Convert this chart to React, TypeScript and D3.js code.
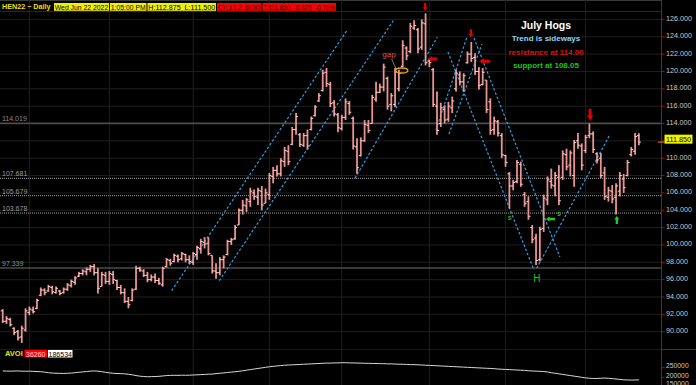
import React from "react";
import * as d3 from "d3";

// ---------- DATA ----------
const opens = [
  92.4, 91.2, 91.4, 90.4, 90.0, 89.4, 90.2, 92.2, 92.5, 92.7,
  94.2, 94.8, 94.7, 95.1, 94.5, 94.7, 94.5, 94.9, 95.3, 95.7,
  96.4, 96.7, 96.9, 97.2, 97.5, 96.8, 95.2, 96.5, 95.8, 96.6,
  95.9, 95.1, 94.5, 93.5, 93.6, 94.9, 97.3, 97.0, 96.5, 96.0,
  96.3, 95.9, 95.4, 97.5, 98.2, 98.1, 98.7, 98.4, 98.9, 98.3,
  98.0, 98.9, 99.6, 100.3, 100.2, 98.8, 97.0, 96.8, 98.3, 98.9,
  100.4, 100.7, 102.3, 104.0, 104.5, 105.0, 106.0, 105.5, 106.2, 104.8,
  105.8, 107.9, 108.6, 108.2, 109.6, 110.8, 111.6, 113.3, 112.7, 111.5,
  112.6, 113.3, 114.9, 116.6, 117.8, 119.9, 118.5, 116.4, 115.0, 113.4,
  114.7, 116.3, 114.6, 111.3, 110.3, 112.0, 113.8, 114.0, 116.8, 117.6,
  118.2, 119.2, 116.2, 116.2, 118.0, 120.6, 122.7, 122.3, 125.0, 124.8,
  122.8, 125.5, 121.2, 120.2, 116.0, 114.0, 115.6, 114.5, 115.8, 118.0,
  119.6, 118.8, 121.0, 122.0, 121.6, 120.0, 118.5, 119.0, 116.5, 113.3,
  114.2, 112.6, 110.3, 108.2, 106.8, 107.3, 109.3, 105.8, 105.0, 102.0,
  100.8, 98.3, 101.9, 105.2, 107.3, 106.8, 107.8, 107.8, 110.4, 109.2,
  108.0, 112.0, 111.4, 110.9, 112.6, 112.8, 110.5, 110.0, 108.3, 105.5,
  106.2, 105.5, 106.2, 107.6, 108.0, 110.4, 110.8, 112.6,
];
const highs = [
  92.6, 91.8, 91.6, 90.5, 90.2, 90.7, 92.7, 92.9, 92.9, 93.8,
  95.1, 95.0, 95.4, 95.3, 95.2, 94.8, 95.1, 95.6, 96.0, 96.4,
  96.9, 97.2, 97.4, 97.7, 97.8, 97.3, 96.9, 96.9, 97.0, 97.0,
  96.0, 95.4, 95.0, 94.0, 95.0, 97.6, 97.5, 97.2, 96.9, 96.6,
  96.7, 96.2, 97.5, 98.5, 98.4, 99.0, 98.9, 99.2, 99.0, 98.8,
  99.2, 99.9, 100.7, 100.9, 100.9, 98.8, 97.9, 98.6, 98.8, 100.6,
  100.8, 102.3, 104.2, 105.2, 105.4, 106.6, 106.4, 106.6, 106.8, 106.5,
  108.3, 109.0, 109.2, 110.0, 111.3, 111.5, 113.6, 115.2, 112.9, 112.9,
  113.3, 114.8, 116.1, 117.5, 120.2, 120.4, 118.8, 116.7, 115.2, 115.0,
  116.9, 116.6, 114.8, 112.3, 112.4, 114.4, 114.4, 117.3, 118.8, 118.6,
  120.9, 119.4, 117.5, 120.4, 120.2, 123.6, 122.9, 125.6, 125.9, 125.0,
  126.0, 126.7, 121.5, 120.4, 117.7, 116.4, 116.1, 116.5, 117.1, 120.2,
  120.0, 119.8, 122.3, 123.4, 122.1, 120.5, 120.4, 119.0, 116.9, 114.8,
  114.4, 112.9, 110.4, 108.4, 107.5, 109.8, 109.6, 106.1, 105.6, 102.3,
  101.3, 102.1, 105.8, 107.9, 108.8, 108.4, 109.2, 110.9, 111.1, 110.9,
  112.1, 112.9, 111.7, 112.7, 114.0, 113.1, 110.7, 110.6, 109.0, 106.7,
  106.9, 107.1, 108.4, 108.2, 109.8, 111.3, 112.9, 112.875,
];
const lows = [
  91.0, 90.9, 90.6, 89.6, 89.0, 88.7, 90.0, 91.9, 92.1, 92.6,
  94.1, 94.2, 94.6, 94.3, 94.4, 94.2, 94.4, 94.7, 95.1, 95.4,
  96.3, 96.5, 96.5, 96.9, 96.5, 94.4, 95.2, 95.5, 95.4, 95.5,
  94.8, 94.3, 93.3, 92.7, 93.5, 94.8, 96.9, 96.3, 95.7, 95.8,
  95.6, 95.4, 95.2, 97.4, 97.6, 98.0, 98.0, 98.2, 98.0, 97.8,
  97.7, 98.3, 99.0, 99.6, 98.8, 96.7, 96.1, 96.5, 97.3, 98.8,
  100.0, 100.6, 102.3, 103.5, 103.8, 104.4, 105.2, 104.6, 104.0, 104.8,
  105.2, 107.1, 107.9, 107.9, 109.0, 109.2, 111.5, 112.7, 111.3, 111.3,
  111.0, 113.2, 114.8, 116.5, 117.7, 118.2, 115.9, 114.8, 113.0, 113.2,
  114.4, 115.0, 111.0, 108.2, 110.2, 111.9, 112.9, 114.0, 116.5, 117.5,
  117.7, 115.6, 115.4, 115.9, 117.7, 120.5, 121.3, 122.1, 124.8, 122.1,
  122.5, 120.7, 120.5, 115.9, 112.7, 113.6, 114.0, 114.2, 115.2, 117.7,
  118.4, 117.7, 120.9, 121.1, 119.6, 117.9, 118.4, 115.2, 112.7, 112.7,
  112.5, 110.0, 109.0, 104.2, 106.3, 107.1, 106.7, 104.4, 102.9, 100.2,
  97.7, 98.1, 101.5, 104.6, 106.5, 105.6, 104.6, 107.5, 108.6, 107.9,
  106.7, 111.1, 108.6, 110.6, 112.3, 110.6, 109.4, 107.7, 105.2, 105.0,
  104.8, 103.5, 105.6, 106.0, 107.9, 110.2, 110.4, 111.5,
];
const closes = [
  91.2, 91.5, 90.8, 89.9, 89.3, 90.4, 92.4, 92.6, 92.3, 93.6,
  94.8, 94.5, 95.2, 94.6, 95.0, 94.4, 94.9, 95.4, 95.8, 96.2,
  96.7, 97.0, 97.2, 97.5, 96.8, 95.0, 96.6, 95.8, 96.7, 96.0,
  95.1, 94.5, 93.5, 93.1, 94.8, 97.3, 97.1, 96.5, 96.0, 96.3,
  95.9, 95.6, 97.3, 98.3, 97.9, 98.8, 98.3, 99.0, 98.3, 98.1,
  99.0, 99.7, 100.4, 100.1, 99.0, 97.0, 96.8, 98.3, 98.6, 100.4,
  100.6, 102.0, 104.0, 104.6, 105.2, 106.2, 105.6, 106.3, 104.6, 106.0,
  108.0, 108.6, 108.2, 109.7, 110.9, 109.6, 113.3, 114.8, 111.6, 112.6,
  111.4, 114.6, 115.9, 117.2, 119.8, 118.6, 116.3, 115.1, 113.5, 114.7,
  116.5, 115.3, 111.4, 108.9, 112.0, 113.9, 113.2, 117.0, 117.6, 118.2,
  120.5, 116.0, 117.2, 120.0, 119.8, 123.0, 121.8, 125.2, 125.3, 122.6,
  125.6, 121.0, 121.0, 116.2, 113.2, 115.8, 114.4, 116.0, 116.6, 119.8,
  118.8, 119.5, 122.0, 121.5, 120.0, 118.4, 119.9, 115.6, 113.2, 114.3,
  112.9, 110.4, 109.5, 106.8, 107.2, 109.5, 107.0, 104.8, 103.3, 100.6,
  98.2, 101.8, 105.4, 107.5, 106.9, 108.0, 105.1, 110.5, 109.0, 110.6,
  111.8, 111.5, 109.2, 112.4, 112.8, 111.0, 109.8, 108.0, 105.6, 106.3,
  105.3, 106.8, 108.0, 106.6, 109.5, 111.0, 112.5, 111.85,
];
const openInterest = [
  233000, 232500, 232000, 232500, 233000, 232000, 231500, 232000, 231000, 230000, 229000, 227000,
  224000, 222000, 221000, 220500,
  220000, 221000, 222000, 224000, 226000,
  228000, 230000, 232000, 233000, 232000,
  229000, 226000, 223000,
  221000, 220000, 219000, 218000, 216000, 213000, 209000, 206000,
  204000, 203000, 203500, 204000, 205000, 207000, 209000,
  210000, 210500, 210000, 211000, 210500, 211000, 212000, 213000, 214000,
  215000, 216000, 217000, 219000, 221000, 223000, 225000, 227000, 229000, 231000,
  234000, 237000, 240000, 243000, 246000, 249000, 252000, 255000, 257000, 259000, 261000, 263000,
  264000, 265000, 266000, 267000, 268000, 269000, 270000, 271000, 272000, 273000, 274000, 274000,
  275000, 275000, 276000, 276000, 275000, 275000, 274000, 274000, 273000, 273000, 272000, 272000, 271000,
  271000, 270000, 270000, 269000, 268000, 268000, 267000, 266000, 266000, 265000, 264000, 263000, 262000,
  261000, 260000, 259000, 258000, 257000, 256000, 255000, 254000, 253000, 252000, 251000, 250000, 249000,
  248000, 247000, 246000, 245000, 243000, 242000, 241000, 240000, 239000, 238000, 237000, 236000, 234000,
  233000, 232000, 231000, 230000, 228000,
  224000, 221000, 218000, 215000, 212000, 209000, 206000, 203000, 200000, 197000, 195000, 194000, 194000, 195000,
  196000, 195000, 193000, 191000, 189000, 187000, 186000, 185500, 186000, 186534,
];
const monthStarts = [7, 28, 50, 70, 89, 112, 132, 153];
const priceTicks = [90, 92, 94, 96, 98, 100, 102, 104, 106, 108, 110, 112, 114, 116, 118, 120, 122, 124, 126];
const volumeTicks = [150000, 200000, 250000];
const solidLevels = [114.019, 97.339];
const dottedLevels = [107.681, 105.679, 103.678];
const lastPrice = 111.85;
// trend lines: [barIndex1, price1, barIndex2, price2]
const trendLines = [
  [44.36, 94.73, 90.45, 124.78],
  [56.85, 95.88, 102.52, 125.85],
  [92.47, 107.68, 114.07, 123.94],
  [113.73, 113.25, 121.86, 123.97],
  [117.13, 112.79, 125.81, 123.16],
  [116.87, 122.24, 139.44, 97.11],
  [123.7, 123.86, 146.27, 98.61],
  [140.16, 97.31, 159.21, 112.56],
];
// arrows: [direction, barIndex of tip, price of tip, colour name]
const arrows = [
  ["down", 110.9, 127.0, "red"],
  ["down", 122.9, 123.94, "red"],
  ["down", 154.2, 114.32, "red"],
  ["left", 111.7, 121.44, "red"],
  ["left", 125.1, 121.17, "red"],
  ["left", 142.6, 103.0, "green"],
  ["up", 161.2, 103.34, "green"],
];
// arrow sizes in pixels [width across, length]
const arrowSizes = [
  [5, 8],
  [5, 8],
  [6.5, 12],
  [6, 9],
  [6, 11],
  [5, 9],
  [5, 8],
];
const chartNotes = [
  ["gap", 101.4, 121.9],
  ["s", 133.1, 103.22],
  ["s", 146.0, 103.57],
  ["H", 140.2, 96.19],
];
const noteStyles = [
  ["#e0504a", 8, "normal"],
  ["#22b822", 7, "bold"],
  ["#22b822", 7, "bold"],
  ["#22c022", 10, "normal"],
];
const gapMark = { i: 104.7, p: 120.11, leader: [102.1, 121.43, 103.5, 120.1] };
const infoLines = ["July Hogs", "Trend is sideways", "resistance at 114.00", "support at 108.05"];
const headerTitle = "HEN22 ~ Daily";
const headerBoxes = ["Wed Jun 22 2022", "1:05:00 PM", "H:112.875  L:111.500", "O:112.600", "T:111.850  -0.875  -0.78%"];
const oiLabel = "AVOI";
const oiBoxes = ["36260", "186534"];

export default function App() {
  const W = 696;
  const H = 385;
  const N = highs.length;
  const axisX = 661;
  const font = "'Liberation Sans', Arial, Helvetica, sans-serif";
  const x = d3.scaleLinear().domain([0, N - 1]).range([2.7, 638.9]);
  const y = d3.scaleLinear().domain([90, 126]).range([331.7, 19.4]);
  const yv = d3.scaleLinear().domain([200000, 250000]).range([377.3, 367.7]);
  const volPath = d3
    .line<number>()
    .x((_, i) => x(i))
    .y((d) => yv(d))(openInterest) as string;

  const infoStyle = [
    ["#ffffff", 10.5, 25],
    ["#8fd4f2", 8, 38.7],
    ["#d41818", 8, 52],
    ["#1ec41e", 8, 65.7],
  ];
  const headerBg = ["#f2f200", "#f2f200", "#f2f200", "#ff0000", "#ff0000"];
  const headerWidths = [55, 36.5, 68.5, 44.5, 73.5];

  const arrowPoints = (dir: string, tx: number, ty: number, wid: number, len: number) => {
    const hl = len * 0.45;
    const sw = wid * 0.45;
    let pts: number[][] = [];
    if (dir === "down") {
      pts = [
        [tx - sw / 2, ty - len], [tx + sw / 2, ty - len], [tx + sw / 2, ty - hl],
        [tx + wid / 2, ty - hl], [tx, ty], [tx - wid / 2, ty - hl], [tx - sw / 2, ty - hl],
      ];
    } else if (dir === "up") {
      pts = [
        [tx - sw / 2, ty + len], [tx + sw / 2, ty + len], [tx + sw / 2, ty + hl],
        [tx + wid / 2, ty + hl], [tx, ty], [tx - wid / 2, ty + hl], [tx - sw / 2, ty + hl],
      ];
    } else {
      const h2 = len * 0.42;
      const sw2 = wid * 0.5;
      pts = [
        [tx, ty], [tx + h2, ty - wid / 2], [tx + h2, ty - sw2 / 2], [tx + len, ty - sw2 / 2],
        [tx + len, ty + sw2 / 2], [tx + h2, ty + sw2 / 2], [tx + h2, ty + wid / 2],
      ];
    }
    return pts.map((p) => p.join(",")).join(" ");
  };

  let hx = 54;
  const headerRects = headerBoxes.map((t, k) => {
    const r = { text: t, bg: headerBg[k], x: hx, w: headerWidths[k] };
    hx += headerWidths[k] + 1;
    return r;
  });

  return (
    <svg
      width={W}
      height={H}
      style={{ position: "fixed", left: 0, top: 0, display: "block" }}
      fontFamily={font}
    >
      <rect x={0} y={0} width={W} height={H} fill="#000" />
      <line x1={0} x2={W} y1={0.5} y2={0.5} stroke="#3a3a3a" />
      {/* grid */}
      {priceTicks.map((t) => (
        <line key={"hg" + t} x1={0} x2={axisX} y1={y(t)} y2={y(t)} stroke="#1e1e1e" strokeWidth={1} />
      ))}
      {monthStarts.map((m) => (
        <line key={"vg" + m} x1={x(m)} x2={x(m)} y1={0} y2={H} stroke="#1e1e1e" strokeWidth={1} />
      ))}
      <line x1={0} x2={axisX} y1={11.5} y2={11.5} stroke="#262626" />
      <line x1={0} x2={axisX} y1={349.5} y2={349.5} stroke="#1a1a1a" />

      {/* reference levels */}
      {solidLevels.map((v) => (
        <g key={"sl" + v}>
          <line x1={0} x2={axisX} y1={y(v)} y2={y(v)} stroke="#4c4c4c" strokeWidth={1.6} />
          <text x={2} y={y(v) - 2} fontSize={7} fill="#8c8c8c">{v.toFixed(3)}</text>
        </g>
      ))}
      {dottedLevels.map((v) => (
        <g key={"dl" + v}>
          <line x1={0} x2={axisX} y1={y(v)} y2={y(v)} stroke="#a0a0a0" strokeWidth={1} strokeDasharray="1,1" />
          <text x={2} y={y(v) - 2} fontSize={7} fill="#9a9a9a">{v.toFixed(3)}</text>
        </g>
      ))}

      {/* trend lines */}
      {trendLines.map((l, k) => (
        <line
          key={"tl" + k}
          x1={x(l[0])}
          y1={y(l[1])}
          x2={x(l[2])}
          y2={y(l[3])}
          stroke="#2f9ee0"
          strokeWidth={1.2}
          strokeDasharray="2.5,2"
        />
      ))}

      {/* OHLC bars */}
      {highs.map((h, i) => {
        const cx = x(i);
        return (
          <g key={"b" + i}>
            <line x1={cx} x2={cx} y1={y(h)} y2={y(lows[i])} stroke="#e99393" strokeWidth={1.8} />
            <line x1={cx - 2} x2={cx} y1={y(opens[i])} y2={y(opens[i])} stroke="#ffd6d6" strokeWidth={1} />
            <line x1={cx} x2={cx + 2} y1={y(closes[i])} y2={y(closes[i])} stroke="#ffd6d6" strokeWidth={1} />
          </g>
        );
      })}

      {/* annotations */}
      <line
        x1={x(gapMark.leader[0])}
        y1={y(gapMark.leader[1])}
        x2={x(gapMark.leader[2])}
        y2={y(gapMark.leader[3])}
        stroke="#9a9a9a"
        strokeWidth={0.8}
      />
      <ellipse cx={x(gapMark.i)} cy={y(gapMark.p)} rx={6.3} ry={2.5} fill="none" stroke="#e3a21e" strokeWidth={1.3} />
      {chartNotes.map((n, k) => (
        <text
          key={"cn" + k}
          x={x(n[1] as number)}
          y={y(n[2] as number)}
          fill={noteStyles[k][0] as string}
          fontSize={noteStyles[k][1] as number}
          fontWeight={noteStyles[k][2] as string}
          textAnchor="middle"
          dominantBaseline="central"
        >
          {n[0]}
        </text>
      ))}
      {arrows.map((a, k) => (
        <polygon
          key={"ar" + k}
          points={arrowPoints(a[0] as string, x(a[1] as number), y(a[2] as number), arrowSizes[k][0], arrowSizes[k][1])}
          fill={a[3] === "red" ? "#e00000" : "#1ed01e"}
        />
      ))}

      {/* info text block */}
      {infoLines.map((l, k) => (
        <text
          key={"il" + k}
          x={546}
          y={infoStyle[k][2] as number}
          fill={infoStyle[k][0] as string}
          fontSize={infoStyle[k][1] as number}
          fontWeight="bold"
          textAnchor="middle"
          dominantBaseline="central"
          stroke="#000"
          strokeWidth={3}
          paintOrder="stroke"
        >
          {l}
        </text>
      ))}

      {/* open interest panel */}
      <path d={volPath} fill="none" stroke="#d8d8d8" strokeWidth={1} />
      <text x={5} y={353.5} fill="#e6e600" fontSize={7.5} fontWeight="bold" dominantBaseline="central">
        {oiLabel}
      </text>
      {oiBoxes.map((b, k) => {
        const bx = [24.5, 48][k];
        const bw = [22.5, 24.5][k];
        const bg = ["#ff0000", "#ffffff"][k];
        const fg = ["#ffd0d0", "#000000"][k];
        return (
          <g key={"ob" + k}>
            <rect x={bx} y={350} width={bw} height={7.5} fill={bg} />
            <text x={bx + bw / 2} y={354} fill={fg} fontSize={7} textAnchor="middle" dominantBaseline="central">
              {b}
            </text>
          </g>
        );
      })}

      {/* right axis */}
      <rect x={axisX} y={0} width={W - axisX} height={H} fill="#000" />
      <line x1={axisX + 0.5} x2={axisX + 0.5} y1={0} y2={H} stroke="#c40000" strokeWidth={1} />
      <line x1={axisX} x2={W} y1={349.5} y2={349.5} stroke="#c40000" strokeWidth={1} />
      {priceTicks.map((t) => (
        <g key={"pt" + t}>
          <line x1={axisX} x2={axisX + 3.5} y1={y(t)} y2={y(t)} stroke="#c40000" strokeWidth={1} />
          <text x={666} y={y(t) - 1} fontSize={7.2} fill="#c9c9c9" dominantBaseline="central">
            {t.toFixed(3)}
          </text>
        </g>
      ))}
      {volumeTicks.map((t) => (
        <g key={"vt" + t}>
          <line x1={axisX} x2={axisX + 3.5} y1={yv(t)} y2={yv(t)} stroke="#c40000" strokeWidth={1} />
          <text
            x={666}
            y={Math.min(yv(t) - 1.8, 383.4)}
            fontSize={6.8}
            fill="#c9c9c9"
            dominantBaseline="central"
          >
            {t}
          </text>
        </g>
      ))}
      <line x1={658} x2={664.5} y1={y(lastPrice)} y2={y(lastPrice)} stroke="#d08a30" strokeWidth={1} />
      <rect x={664.5} y={y(lastPrice) - 7.5} width={28} height={9} fill="#f2f200" />
      <text x={678.5} y={y(lastPrice) - 3} fontSize={7.2} fill="#000" textAnchor="middle" dominantBaseline="central">
        {lastPrice.toFixed(3)}
      </text>

      {/* header */}
      <text x={2} y={6.8} fill="#e6e600" fontSize={7.2} fontWeight="bold" dominantBaseline="central">
        {headerTitle}
      </text>
      {headerRects.map((r, k) => (
        <g key={"hb" + k}>
          <rect x={r.x} y={3} width={r.w} height={7.8} fill={r.bg} />
          <text
            x={r.x + 0.8}
            y={7}
            fontSize={7}
            fill={r.bg === "#ff0000" ? "#2a0000" : "#000"}
            dominantBaseline="central"
            textLength={r.w - 1.6}
            lengthAdjust="spacingAndGlyphs"
            style={{ whiteSpace: "pre" }}
          >
            {r.text}
          </text>
        </g>
      ))}
    </svg>
  );
}
